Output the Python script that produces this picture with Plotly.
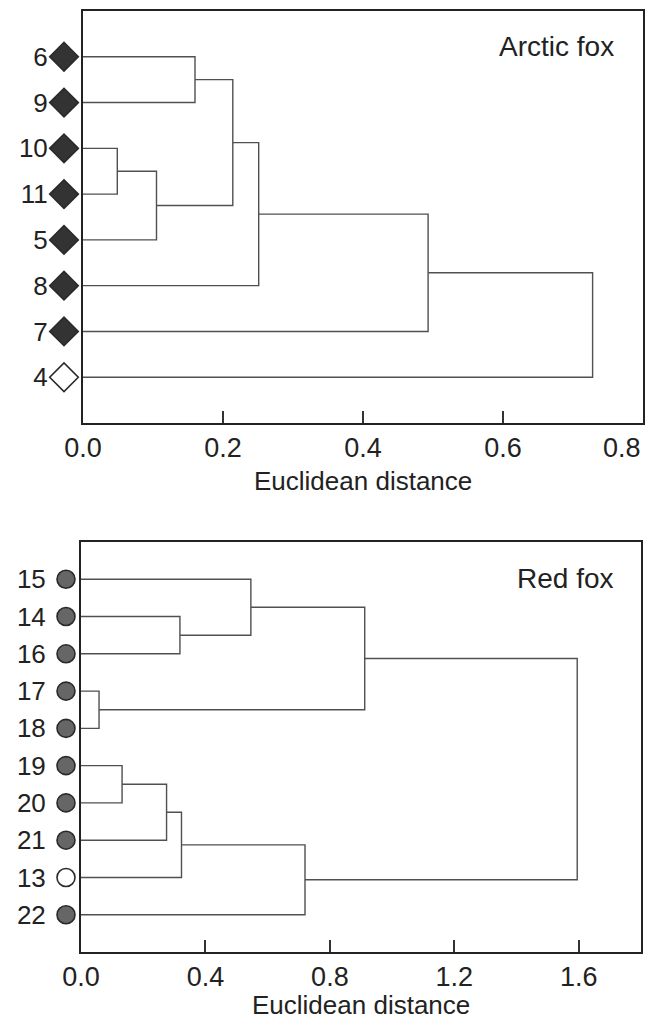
import plotly.graph_objects as go

# ---------------- data ----------------
arctic_leaves = ["6", "9", "10", "11", "5", "8", "7", "4"]
arctic_open = ["4"]
# merges: (child_a, child_b, distance); children are leaf labels or "c<k>"
arctic_merges = [
    ("10", "11", 0.049),
    ("c0", "5", 0.105),
    ("6", "9", 0.160),
    ("c2", "c1", 0.214),
    ("c3", "8", 0.251),
    ("c4", "7", 0.493),
    ("c5", "4", 0.728),
]
arctic_ticks = [0.0, 0.2, 0.4, 0.6, 0.8]
arctic_ticktext = ["0.0", "0.2", "0.4", "0.6", "0.8"]

red_leaves = ["15", "14", "16", "17", "18", "19", "20", "21", "13", "22"]
red_open = ["13"]
red_merges = [
    ("17", "18", 0.058),
    ("19", "20", 0.132),
    ("c1", "21", 0.275),
    ("14", "16", 0.318),
    ("c2", "13", 0.323),
    ("15", "c3", 0.546),
    ("c4", "22", 0.720),
    ("c5", "c0", 0.912),
    ("c6", "c7", 1.595),
]
red_ticks = [0.0, 0.4, 0.8, 1.2, 1.6]
red_ticktext = ["0.0", "0.4", "0.8", "1.2", "1.6"]

# ---------------- styling ----------------
FONT = "Liberation Sans, Arial, Helvetica, sans-serif"
TXT = "#222222"
LINE = "#505050"
PAGE_W, PAGE_H = 659, 1021
OFF = 8                      # default body margin of the html page
W, H = PAGE_W - OFF, PAGE_H - OFF


def px(x):                   # page pixel -> paper x
    return (x - OFF) / W


def py(y):                   # page pixel -> paper y
    return 1 - (y - OFF) / H


def dendro_path(leaves, merges):
    pos = {lab: i + 1 for i, lab in enumerate(leaves)}
    hgt = {lab: 0.0 for lab in leaves}
    xs, ys = [], []
    for k, (a, b, d) in enumerate(merges):
        ya, yb = pos[a], pos[b]
        xs += [hgt[a], d, d, hgt[b], None]
        ys += [ya, ya, yb, yb, None]
        pos["c%d" % k] = (ya + yb) / 2
        hgt["c%d" % k] = d
    return xs, ys


fig = go.Figure()

panels = [
    dict(leaves=arctic_leaves, open=arctic_open, merges=arctic_merges,
         ticks=arctic_ticks, ticktext=arctic_ticktext, xr=[0, 0.8],
         xdom=[83, 643], ydom=[11, 423], ax="", mx="3", name="Arctic fox",
         symbol="diamond", msize=22, fill="#333333", mcx=64,
         last_right=True),
    dict(leaves=red_leaves, open=red_open, merges=red_merges,
         ticks=red_ticks, ticktext=red_ticktext, xr=[0, 1.8],
         xdom=[81, 641], ydom=[542, 952], ax="2", mx="4", name="Red fox",
         symbol="circle", msize=18, fill="#666666", mcx=66,
         last_right=False),
]

for p in panels:
    xa = "x" + p["ax"]
    ya = "y" + p["ax"]
    xm = "x" + p["mx"]
    xs, ys = dendro_path(p["leaves"], p["merges"])
    fig.add_trace(go.Scatter(x=xs, y=ys, mode="lines", xaxis=xa, yaxis=ya,
                             line=dict(color=LINE, width=1.4),
                             hoverinfo="skip", showlegend=False))
    # leaf markers in a narrow helper axis just left of the frame
    n = len(p["leaves"])
    fills = ["white" if lab in p["open"] else p["fill"] for lab in p["leaves"]]
    fig.add_trace(go.Scatter(
        x=[0] * n, y=list(range(1, n + 1)), mode="markers",
        xaxis=xm, yaxis=ya, cliponaxis=False, showlegend=False,
        hoverinfo="skip",
        marker=dict(symbol=p["symbol"], size=p["msize"], color=fills,
                    line=dict(color="#2a2a2a", width=1.6))))

    ttext = list(p["ticktext"])
    if p["last_right"]:
        # last label sits flush with the right frame edge -> draw it separately
        fig.add_annotation(text=ttext[-1], xref=xa, yref="paper",
                           x=p["ticks"][-1], y=py(p["ydom"][1] + 25),
                           xanchor="right", yanchor="middle",
                           showarrow=False,
                           font=dict(family=FONT, size=27, color=TXT))
        ttext[-1] = ""
    xkey = "xaxis" + p["ax"]
    ykey = "yaxis" + p["ax"]
    mkey = "xaxis" + p["mx"]
    fig.update_layout(**{
        xkey: dict(domain=[px(p["xdom"][0]), px(p["xdom"][1])],
                   range=p["xr"], anchor=ya, tickvals=p["ticks"],
                   ticktext=ttext, ticks="inside", ticklen=12,
                   tickwidth=1.5, tickcolor="#333333",
                   showline=True, linecolor="#222222", linewidth=2,
                   mirror=True, showgrid=False, zeroline=False,
                   automargin=False, ticklabeloverflow="allow",
                   tickfont=dict(family=FONT, size=27, color=TXT),
                   fixedrange=True),
        ykey: dict(domain=[py(p["ydom"][1]), py(p["ydom"][0])],
                   range=[n + 1, 0], anchor=xa,
                   tickvals=list(range(1, n + 1)), ticktext=p["leaves"],
                   ticks="", ticklabelstandoff=28,
                   showline=True, linecolor="#222222", linewidth=2,
                   mirror=True, showgrid=False, zeroline=False,
                   automargin=False, ticklabeloverflow="allow",
                   tickfont=dict(family=FONT, size=26, color=TXT),
                   fixedrange=True),
        mkey: dict(domain=[px(p["mcx"] - 15), px(p["mcx"] + 15)],
                   range=[-1, 1], anchor=ya, visible=False,
                   automargin=False, fixedrange=True),
    })
    # panel name
    fig.add_annotation(text=p["name"], xref="paper", yref="paper",
                       x=px(616), y=py(p["ydom"][0] + 36),
                       xanchor="right", yanchor="middle", showarrow=False,
                       font=dict(family=FONT, size=28, color=TXT))
    # axis title
    cx = (p["xdom"][0] + p["xdom"][1]) / 2
    title_y = min(p["ydom"][1] + 74, PAGE_H)
    fig.add_annotation(text="Euclidean distance", xref="paper", yref="paper",
                       x=px(cx), y=py(title_y),
                       xanchor="center", yanchor="bottom", showarrow=False,
                       borderpad=0,
                       font=dict(family=FONT, size=26, color=TXT))

fig.update_layout(width=W, height=H, margin=dict(l=0, r=0, t=0, b=0),
                  paper_bgcolor="white", plot_bgcolor="white",
                  showlegend=False)

fig.write_html("out.html")
